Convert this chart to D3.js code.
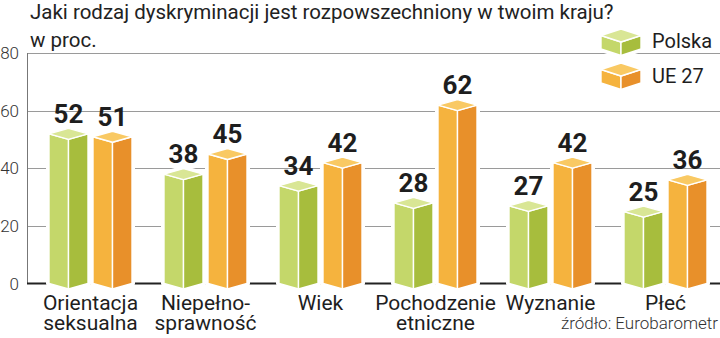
<!DOCTYPE html>
<html><head><meta charset="utf-8">
<script src="https://cdn.jsdelivr.net/npm/d3@7"></script>
<style>
html,body{margin:0;padding:0;background:#fff;}
svg{display:block;font-family:Roboto,"Noto Sans",sans-serif;}
</style></head>
<body>
<svg id="c" width="720" height="338"></svg>
<script>
const categories = [["Orientacja","seksualna"],["Niepełno-","sprawność"],["Wiek"],["Pochodzenie","etniczne"],["Wyznanie"],["Płeć"]];
const seriesNames = ["Polska","UE 27"];
const polska = [52,38,34,28,27,25];
const ue27 = [51,45,42,62,42,36];
const yTicks = [0,20,40,60,80];
const title = "Jaki rodzaj dyskryminacji jest rozpowszechniony w twoim kraju?";
const subtitle = "w proc.";
const source = "źródło: Eurobarometr";

const colors = {
  "Polska": {left:"#c4d76a", right:"#a7bd3d", top:"#d9e695"},
  "UE 27": {left:"#f5b33e", right:"#e8902a", top:"#f9c963"}
};

const svg = d3.select("#c");
const catKeys = categories.map(c=>c.join(" "));
const x0 = d3.scaleBand().domain(catKeys).range([33,723]).paddingInner(0).paddingOuter(0);
const x1 = d3.scaleBand().domain(seriesNames).range([16,99]).paddingInner(5/44).paddingOuter(0);
const y = d3.scaleLinear().domain([0,80]).range([283.5,53.3]);
const DY = 5.5;

// title
svg.append("text").attr("x",30).attr("y",19).attr("font-size",20.5).attr("fill","#222").text(title);
svg.append("text").attr("x",30).attr("y",47).attr("font-size",20.5).attr("fill","#222").text(subtitle);

// grid
const g = svg.append("g");
g.selectAll("line.grid").data(yTicks.filter(d=>d>0)).join("line")
  .attr("x1",27).attr("x2",720).attr("y1",d=>Math.round(y(d))+0.5).attr("y2",d=>Math.round(y(d))+0.5)
  .attr("stroke","#9a9a9a").attr("stroke-width",1);
g.append("line").attr("x1",27.5).attr("x2",27.5).attr("y1",Math.round(y(80))).attr("y2",y(0))
  .attr("stroke","#777").attr("stroke-width",1);
g.append("line").attr("x1",27).attr("x2",720).attr("y1",y(0)).attr("y2",y(0))
  .attr("stroke","#222").attr("stroke-width",2.2);
g.selectAll("text.tick").data(yTicks).join("text")
  .attr("x",19).attr("y",d=>y(d)+6).attr("text-anchor","end")
  .attr("font-size",17).attr("font-weight",300).attr("fill","#333").text(d=>d);

function cube(sel, xl, w, yt, yb, dy, col){
  const xm = xl + w/2, xr = xl + w;
  const outline = [[xl,yt],[xm,yt-dy],[xr,yt],[xr,yb],[xm,yb+dy],[xl,yb]];
  sel.append("polygon").attr("points",outline.join(" ")).attr("fill","#fff").attr("stroke","#fff").attr("stroke-width",6).attr("stroke-linejoin","round");
  const sw = 1.4;
  sel.append("polygon").attr("points",[[xl,yt],[xm,yt+dy],[xm,yb+dy],[xl,yb]].join(" ")).attr("fill",col.left).attr("stroke","#fff").attr("stroke-width",sw).attr("stroke-linejoin","round");
  sel.append("polygon").attr("points",[[xm,yt+dy],[xr,yt],[xr,yb],[xm,yb+dy]].join(" ")).attr("fill",col.right).attr("stroke","#fff").attr("stroke-width",sw).attr("stroke-linejoin","round");
  sel.append("polygon").attr("points",[[xl,yt],[xm,yt-dy],[xr,yt],[xm,yt+dy]].join(" ")).attr("fill",col.top).attr("stroke","#fff").attr("stroke-width",sw).attr("stroke-linejoin","round");
}

// bars
const rows = catKeys.map((k,i)=>({key:k, lines:categories[i], vals:[{s:"Polska",v:polska[i]},{s:"UE 27",v:ue27[i]}]}));
const groups = svg.selectAll("g.grp").data(rows).join("g").attr("class","grp")
  .attr("transform",d=>`translate(${x0(d.key)},0)`);
groups.each(function(d){
  const gg = d3.select(this);
  d.vals.forEach(b=>{
    const bx = x1(b.s), bw = x1.bandwidth();
    cube(gg.append("g"), bx, bw, y(b.v), y(0), DY, colors[b.s]);
    gg.append("text").attr("x",bx+bw/2).attr("y",y(b.v)-11).attr("text-anchor","middle")
      .attr("font-size",26).attr("font-weight",700).attr("fill","#1e1e1e").text(b.v);
  });
  d.lines.forEach((ln,j)=>{
    gg.append("text").attr("text-anchor","middle").attr("font-size",21).attr("fill","#1e1e1e")
      .attr("x",x0.bandwidth()/2).attr("y",310+j*19.5).text(ln);
  });
});

// legend
const lg = svg.append("g");
seriesNames.forEach((s,i)=>{
  const top = 35.5 + i*34;
  cube(lg.append("g"), 601, 40, top, top+13.5, 6.5, colors[s]);
  lg.append("text").attr("x",652).attr("y",48+i*34.5).attr("font-size",20).attr("fill","#1e1e1e").text(s);
});

// source
svg.append("text").attr("x",718).attr("y",329).attr("text-anchor","end").attr("font-size",17).attr("font-weight",300).attr("fill","#333").text(source);
</script>
</body></html>
